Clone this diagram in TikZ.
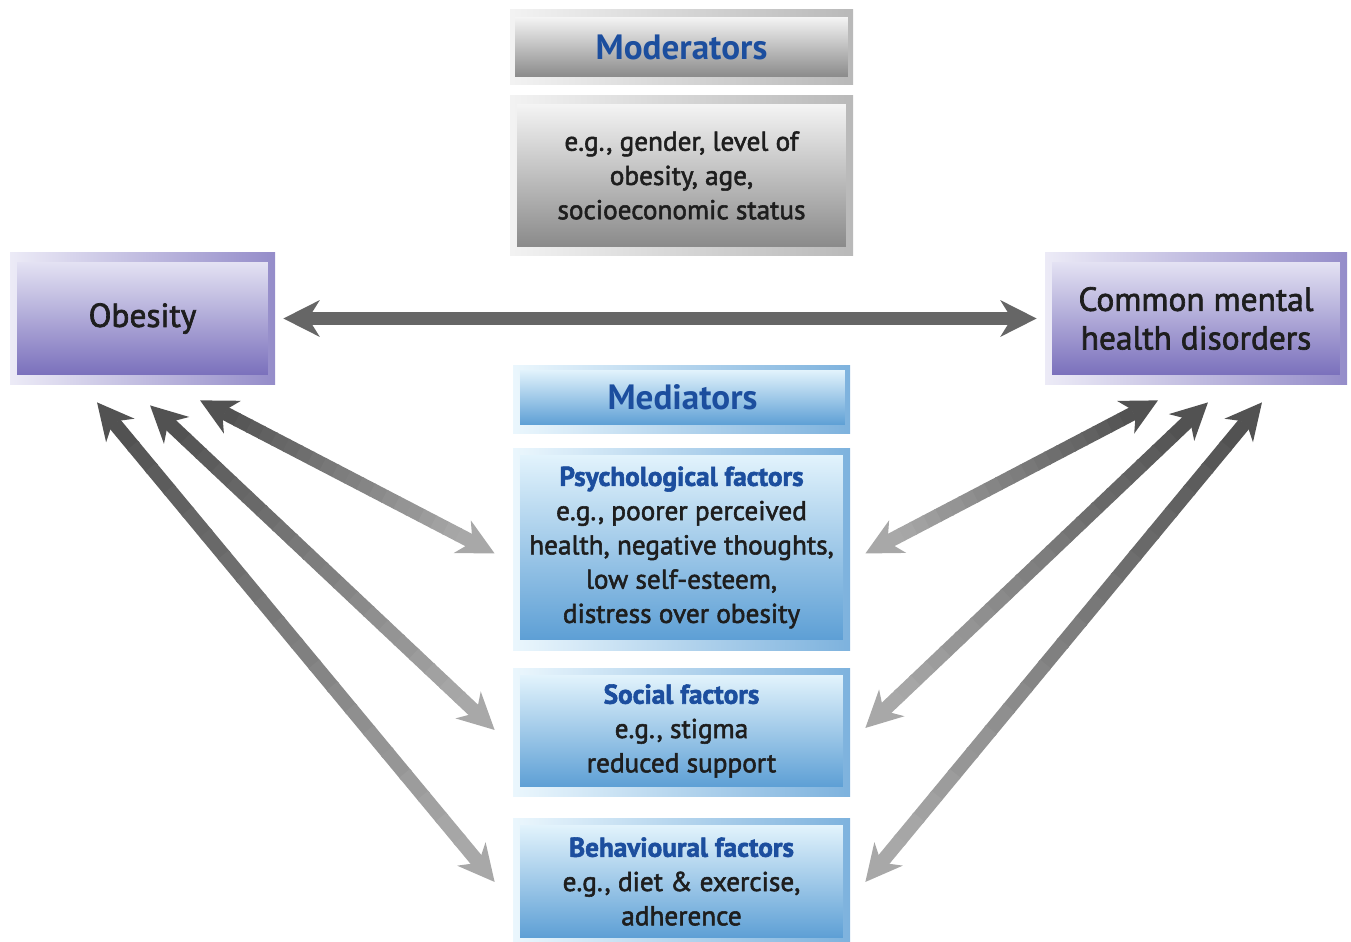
\documentclass[tikz,border=0pt]{standalone}
\usepackage{fontspec}
\setmainfont{PT Sans}
\newfontfamily\semifont{PT Sans}[FakeBold=2]
\usepackage{xcolor}
\usepackage{tikz}
\usetikzlibrary{arrows.meta,calc}

\definecolor{headblue}{HTML}{1C4E9E}
\definecolor{txtdark}{HTML}{1E1E1E}
\definecolor{purptop}{HTML}{E4E2F3}
\definecolor{purpbot}{HTML}{7A70BC}
\definecolor{bluetop}{HTML}{E2F3FC}
\definecolor{bluebot}{HTML}{5D9FD5}
\definecolor{graytop}{HTML}{F4F4F4}
\definecolor{graybot}{HTML}{8A8A8A}

\tikzset{
  box/.style={rectangle, align=center, inner sep=0pt, text=txtdark,
    font=\semifont\fontsize{15.5}{19.5}\selectfont},
  graybox/.style={box, top color=graytop, middle color=gray!25, bottom color=graybot},
  bluebox/.style={box, top color=bluetop, middle color=bluetop!80!bluebot, bottom color=bluebot},
  purpbox/.style={box, top color=purptop, middle color=purptop!85!purpbot, bottom color=purpbot},
  barb/.tip={Stealth[length=0.72cm,width=0.72cm,inset=0.22cm]},
  arrow/.style={line width=0.28cm, draw=black!60, {barb}-{barb}},
}
\newcommand{\hd}[1]{{\bfseries\color{headblue}#1}}
% shaft shaded from dark (#1 end) to light (#2 end)
\newcommand{\gradarrow}[2]{%
  \coordinate (gs) at ($(#1)!0.55cm!(#2)$);
  \coordinate (ge) at ($(#2)!0.55cm!(#1)$);
  \foreach \i in {0,...,19} {
    \pgfmathsetmacro\j{(\i+1.1)/20}
    \pgfmathtruncatemacro\c{68-34*\i/19}
    \draw[line width=0.28cm, draw=black!\c] ($(gs)!\i/20!(ge)$) -- ($(gs)!\j!(ge)$);
  }
  \draw[-{barb}, line width=0.28cm, draw=black!68] ($(#1)!0.56cm!(#2)$) -- (#1);
  \draw[-{barb}, line width=0.28cm, draw=black!34] ($(#2)!0.56cm!(#1)$) -- (#2);
}

\begin{document}
\begin{tikzpicture}[x=0.02cm, y=-0.02cm]
\useasboundingbox (0,0) rectangle (1351,942);

% frames behind the boxes
\shade[left color=gray!10, right color=gray!55] (510,10) rectangle (853,85);
\shade[left color=gray!10, right color=gray!55] (510,96) rectangle (853,256);
\shade[left color=purptop!70, right color=purpbot!80] (10,253) rectangle (275,384);
\shade[left color=purptop!70, right color=purpbot!80] (1045,253) rectangle (1347,384);
\foreach \ya/\yb in {365/433, 448/650, 668/796, 818/942}
  \shade[left color=bluetop!70, right color=bluebot!80] (513,\ya) rectangle (850,\yb);

% boxes
\node[graybox, minimum width=6.66cm, minimum height=1.2cm,
  font=\fontsize{20}{24}\selectfont] (mod) at (681.5,47) {\hd{Moderators}};
\node[graybox, minimum width=6.58cm, minimum height=2.86cm] (modtxt) at (681.5,175.5)
  {e.g., gender, level of\\ obesity, age,\\ socioeconomic status};
\node[purpbox, minimum width=5.02cm, minimum height=2.26cm,
  font=\semifont\fontsize{19}{22}\selectfont] (obes) at (142.5,318.5) {Obesity};
\node[purpbox, minimum width=5.76cm, minimum height=2.26cm,
  font=\semifont\fontsize{19}{22}\selectfont] (cmhd) at (1196,318.5)
  {Common mental\\ health disorders};
\node[bluebox, minimum width=6.5cm, minimum height=1.1cm,
  font=\fontsize{20}{24}\selectfont] (med) at (682.5,397.5) {\hd{Mediators}};
\node[bluebox, minimum width=6.46cm, minimum height=3.7cm] (psy) at (681.5,547.5)
  {\hd{Psychological factors}\\ e.g., poorer perceived\\ health, negative thoughts,\\
   low self-esteem,\\ distress over obesity};
\node[bluebox, minimum width=6.46cm, minimum height=2.24cm] (soc) at (681.5,731)
  {\hd{Social factors}\\ e.g., stigma\\ reduced support};
\node[bluebox, minimum width=6.46cm, minimum height=2.26cm] (beh) at (681.5,881.5)
  {\hd{Behavioural factors}\\ e.g., diet \& exercise,\\ adherence};

% arrow ends
\coordinate (o1) at ([shift={(57.5,25)}]obes.south);
\coordinate (o2) at ([shift={(7.5,30)}]obes.south);
\coordinate (o3) at ([shift={(-45.5,27)}]obes.south);
\coordinate (c1) at ([shift={(-38,25)}]cmhd.south);
\coordinate (c2) at ([shift={(12,27)}]cmhd.south);
\coordinate (c3) at ([shift={(66,27)}]cmhd.south);
\coordinate (p1) at ([shift={(-25,6)}]psy.west);
\coordinate (s1) at ([shift={(-25,-1)}]soc.west);
\coordinate (b1) at ([shift={(-25,0.5)}]beh.west);
\coordinate (p2) at ([shift={(22,6)}]psy.east);
\coordinate (s2) at ([shift={(22,-3)}]soc.east);
\coordinate (b2) at ([shift={(22,0.5)}]beh.east);

% connectors
\draw[arrow, shorten <=0.3cm, shorten >=0.3cm] (obes) -- (cmhd);
\gradarrow{o1}{p1}
\gradarrow{o2}{s1}
\gradarrow{o3}{b1}
\gradarrow{c1}{p2}
\gradarrow{c2}{s2}
\gradarrow{c3}{b2}
\end{tikzpicture}
\end{document}
